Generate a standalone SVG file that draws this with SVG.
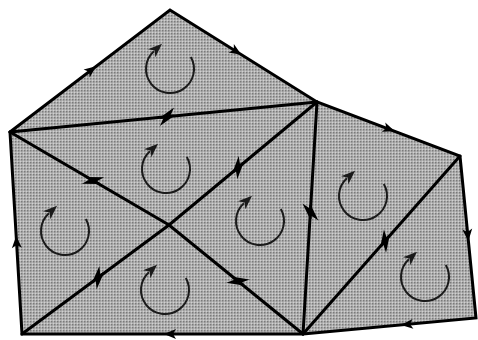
<svg xmlns="http://www.w3.org/2000/svg" xmlns:xlink="http://www.w3.org/1999/xlink" width="478" height="340" viewBox="0 0 478 340">
<style>
.edge{fill:none;stroke:#000;stroke-width:3;stroke-linejoin:miter;stroke-linecap:round}
.ah{fill:#000}
.rot{fill:none;stroke:#1a1a1a;stroke-width:2;marker-end:url(#rh)}
</style>
<defs>
<pattern id="tex" width="3" height="3" patternUnits="userSpaceOnUse">
<rect width="3" height="3" fill="#b6b6b6"/>
<rect width="1.5" height="1.5" fill="#7a7a7a"/>
<rect x="2" y="2" width="1" height="1" fill="#d0d0d0"/>
</pattern>
<marker id="rh" viewBox="0 0 14 11" refX="3" refY="5.5" markerWidth="14" markerHeight="11" markerUnits="userSpaceOnUse" orient="auto">
<path d="M0,0 L14,5.5 L0,11 L4,5.5 Z" fill="#1a1a1a"/>
</marker>
<path id="full" d="M4,0 L-8,-5 L-5,0 L-8,5 Z"/>
<path id="half" d="M3,0 L-12,8.5 L-7,0 L-7,-1.5 L3,-1.5 Z"/>
<path id="rot" d="M20.8,-12 A24,24 0 1 1 -16.1,-17.8"/>
</defs>
<rect width="478" height="340" fill="#fff"/>
<g id="faces">
<polygon points="10,132 170,10 317,102 460,156 476,318 303,334 22,334" fill="url(#tex)"/>
</g>
<g id="connectors">
<polygon class="edge" points="10,132 170,10 317,102 460,156 476,318 303,334 22,334"/>
<line class="edge" x1="10" y1="132" x2="317" y2="102"/>
<polyline class="edge" points="10,132 169,225 303,334"/>
<polyline class="edge" points="22,334 169,225 317,102"/>
<line class="edge" x1="317" y1="102" x2="303" y2="334"/>
<line class="edge" x1="303" y1="334" x2="460" y2="156"/>
</g>
<g id="boundary-arrows" class="ah">
<use href="#full" transform="translate(93,68.7) rotate(-37.3)"/>
<use href="#full" transform="translate(238,52.6) rotate(32)"/>
<use href="#full" transform="translate(391,129.9) rotate(20.7)"/>
<use href="#full" transform="translate(468,237) rotate(84.4)"/>
<use href="#full" transform="translate(405,324.6) rotate(174.7)"/>
<use href="#full" transform="translate(168,334) rotate(180)"/>
<use href="#full" transform="translate(16.4,240) rotate(266.6)"/>
</g>
<g id="edge-arrows" class="ah">
<use href="#half" transform="translate(171,116.3) rotate(-5.6)"/>
<use href="#half" transform="translate(163,117.1) rotate(174.4)"/>
<use href="#half" transform="translate(96.5,182.5) rotate(30.3)"/>
<use href="#half" transform="translate(89.5,178.5) rotate(210.3)"/>
<use href="#half" transform="translate(241.1,165.1) rotate(-39.7)"/>
<use href="#half" transform="translate(234.9,170.3) rotate(140.3)"/>
<use href="#half" transform="translate(101.2,275.2) rotate(-36.6)"/>
<use href="#half" transform="translate(94.8,280) rotate(143.4)"/>
<use href="#half" transform="translate(241.1,283.6) rotate(39.1)"/>
<use href="#half" transform="translate(234.9,278.6) rotate(219.1)"/>
<use href="#half" transform="translate(310.2,216) rotate(93.45)"/>
<use href="#half" transform="translate(310.6,208) rotate(273.45)"/>
<use href="#half" transform="translate(387.6,238.1) rotate(-48.6)"/>
<use href="#half" transform="translate(382.4,244.1) rotate(131.4)"/>
</g>
<g id="circulations">
<g id="c1"><use href="#rot" class="rot" transform="translate(170,69)"/></g>
<g id="c2"><use href="#rot" class="rot" transform="translate(166,169)"/></g>
<g id="c3"><use href="#rot" class="rot" transform="translate(65,231)"/></g>
<g id="c4"><use href="#rot" class="rot" transform="translate(165,290)"/></g>
<g id="c5"><use href="#rot" class="rot" transform="translate(260,221)"/></g>
<g id="c6"><use href="#rot" class="rot" transform="translate(363,196)"/></g>
<g id="c7"><use href="#rot" class="rot" transform="translate(425,277)"/></g>
</g>
</svg>
